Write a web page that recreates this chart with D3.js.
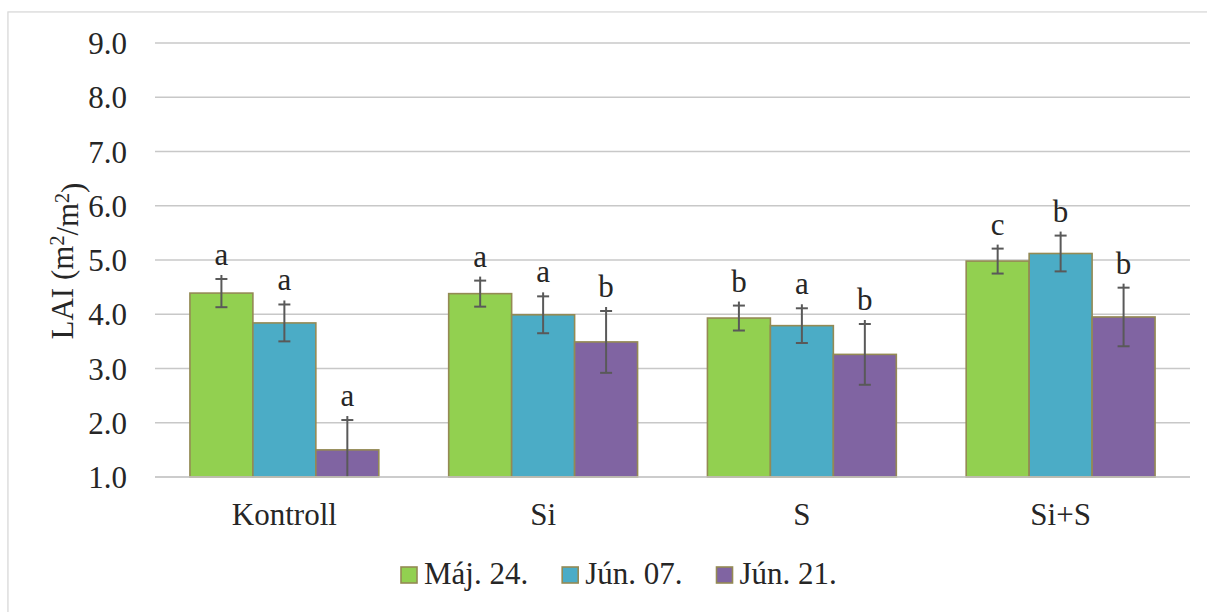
<!DOCTYPE html>
<html>
<head>
<meta charset="utf-8">
<script src="https://cdn.jsdelivr.net/npm/d3@7"></script>
<style>
  html, body { margin: 0; padding: 0; background: #ffffff; }
  svg { display: block; }
</style>
</head>
<body>
<svg id="chart" width="1207" height="612" font-family="Liberation Serif"></svg>
<script>
// LAI by treatment and sampling date
const categories = ["Kontroll", "Si", "S", "Si+S"];
const seriesNames = ["Máj. 24.", "Jún. 07.", "Jún. 21."];
const seriesColors = ["#92d050", "#4bacc6", "#8064a2"];

// mean LAI values per series, ordered as categories
const majValues = [4.39, 4.38, 3.93, 4.98];
const jun07Values = [3.84, 3.99, 3.79, 5.12];
const jun21Values = [1.50, 3.49, 3.26, 3.95];

// standard deviations
const majErr = [0.26, 0.24, 0.23, 0.23];
const jun07Err = [0.34, 0.34, 0.32, 0.33];
const jun21Err = [0.55, 0.57, 0.56, 0.54];

// significance letters
const majLetters = ["a", "a", "b", "c"];
const jun07Letters = ["a", "a", "a", "b"];
const jun21Letters = ["a", "b", "b", "b"];

const yTicks = [1, 2, 3, 4, 5, 6, 7, 8, 9];

const seriesValues = [majValues, jun07Values, jun21Values];
const seriesErr = [majErr, jun07Err, jun21Err];
const seriesLetters = [majLetters, jun07Letters, jun21Letters];

const FONT = "Liberation Serif";
const FONT_SIZE = 31;
const TEXT_COLOR = "#262626";

// apply the serif text style directly on a text selection
const serif = sel => sel.attr("font-family", FONT).attr("font-size", FONT_SIZE).attr("fill", TEXT_COLOR);

const svg = d3.select("#chart");

// chart frame
svg.append("rect")
  .attr("x", 9).attr("y", 13).attr("width", 1230).attr("height", 640)
  .attr("fill", "none").attr("stroke", "#e6e6e6").attr("stroke-width", 3);
svg.append("rect")
  .attr("x", 8).attr("y", 12).attr("width", 1230).attr("height", 640)
  .attr("fill", "#ffffff").attr("stroke", "#d9d9d9").attr("stroke-width", 1.2);

const plot = { left: 155, right: 1190, top: 43, bottom: 477 };

const y = d3.scaleLinear().domain([1, 9]).range([plot.bottom, plot.top]);
const x0 = d3.scaleBand().domain(categories)
  .range([plot.left, plot.right]).paddingInner(0.27).paddingOuter(0.135);
const x1 = d3.scaleBand().domain(d3.range(seriesNames.length))
  .range([0, x0.bandwidth()]).padding(0);

// gridlines
svg.append("g")
  .selectAll("line")
  .data(yTicks)
  .join("line")
  .attr("x1", plot.left).attr("x2", plot.right)
  .attr("y1", d => y(d)).attr("y2", d => y(d))
  .attr("stroke", "#c8c8c8").attr("stroke-width", 1.5);

// y axis labels
const yAxis = d3.axisLeft(y).tickValues(yTicks).tickFormat(d3.format(".1f")).tickSize(0).tickPadding(28);
const yg = svg.append("g").attr("transform", `translate(${plot.left},0)`).call(yAxis)
  .attr("font-family", FONT).attr("font-size", FONT_SIZE);
yg.select(".domain").remove();
yg.selectAll("text").call(serif).attr("dy", "0.34em");

// y axis title
const title = svg.append("text")
  .attr("transform", `translate(73,${(plot.top + plot.bottom) / 2 + 1}) rotate(-90)`)
  .attr("text-anchor", "middle")
  .call(serif);
title.append("tspan").text("LAI (m");
title.append("tspan").attr("dy", "-0.45em").attr("font-size", 20).text("2");
title.append("tspan").attr("dy", "0.45em").text("/m");
title.append("tspan").attr("dy", "-0.45em").attr("font-size", 20).text("2");
title.append("tspan").attr("dy", "0.45em").text(")");

// bars
const groups = svg.append("g")
  .selectAll("g")
  .data(categories)
  .join("g")
  .attr("transform", c => `translate(${x0(c)},0)`);

const cells = groups.selectAll("g")
  .data((c, ci) => seriesNames.map((s, si) => ({
    si, value: seriesValues[si][ci], err: seriesErr[si][ci], letter: seriesLetters[si][ci]
  })))
  .join("g");

cells.append("rect")
  .attr("x", d => x1(d.si))
  .attr("width", x1.bandwidth())
  .attr("y", d => y(d.value))
  .attr("height", d => y(1) - y(d.value))
  .attr("fill", d => seriesColors[d.si])
  .attr("stroke", "#948a54").attr("stroke-width", 1.6);

// error bars
const cx = d => x1(d.si) + x1.bandwidth() / 2;
const clampY = v => y(Math.max(1, v));
cells.append("line")
  .attr("x1", cx).attr("x2", cx)
  .attr("y1", d => y(d.value + d.err) - 4)
  .attr("y2", d => clampY(d.value - d.err))
  .attr("stroke", "#595959").attr("stroke-width", 2);
cells.append("line")
  .attr("x1", d => cx(d) - 6).attr("x2", d => cx(d) + 6)
  .attr("y1", d => y(d.value + d.err))
  .attr("y2", d => y(d.value + d.err))
  .attr("stroke", "#595959").attr("stroke-width", 2);
cells.filter(d => d.value - d.err > 1).append("line")
  .attr("x1", d => cx(d) - 6).attr("x2", d => cx(d) + 6)
  .attr("y1", d => y(d.value - d.err))
  .attr("y2", d => y(d.value - d.err))
  .attr("stroke", "#595959").attr("stroke-width", 2);

// significance letters
cells.append("text")
  .attr("x", cx)
  .attr("y", d => y(d.value + d.err) - 14)
  .attr("text-anchor", "middle")
  .call(serif)
  .text(d => d.letter);

// x axis baseline
svg.append("line")
  .attr("x1", plot.left).attr("x2", plot.right)
  .attr("y1", plot.bottom).attr("y2", plot.bottom)
  .attr("stroke", "#c8c8c8").attr("stroke-width", 1.5);

// category labels
const xAxis = d3.axisBottom(x0).tickSize(0).tickPadding(0);
const xg = svg.append("g").attr("transform", `translate(0,${plot.bottom})`).call(xAxis)
  .attr("font-family", FONT).attr("font-size", FONT_SIZE);
xg.select(".domain").remove();
xg.selectAll("text").call(serif).attr("dy", null).attr("y", 48);

// legend
const legend = svg.append("g");
let lx = 401;
seriesNames.forEach((name, i) => {
  legend.append("rect")
    .attr("x", lx).attr("y", 567).attr("width", 16).attr("height", 16)
    .attr("fill", seriesColors[i]).attr("stroke", "#948a54").attr("stroke-width", 1.6);
  const t = legend.append("text")
    .attr("x", lx + 23).attr("y", 584)
    .call(serif)
    .text(name);
  lx += 23 + t.node().getComputedTextLength() + 34;
});
</script>
</body>
</html>
